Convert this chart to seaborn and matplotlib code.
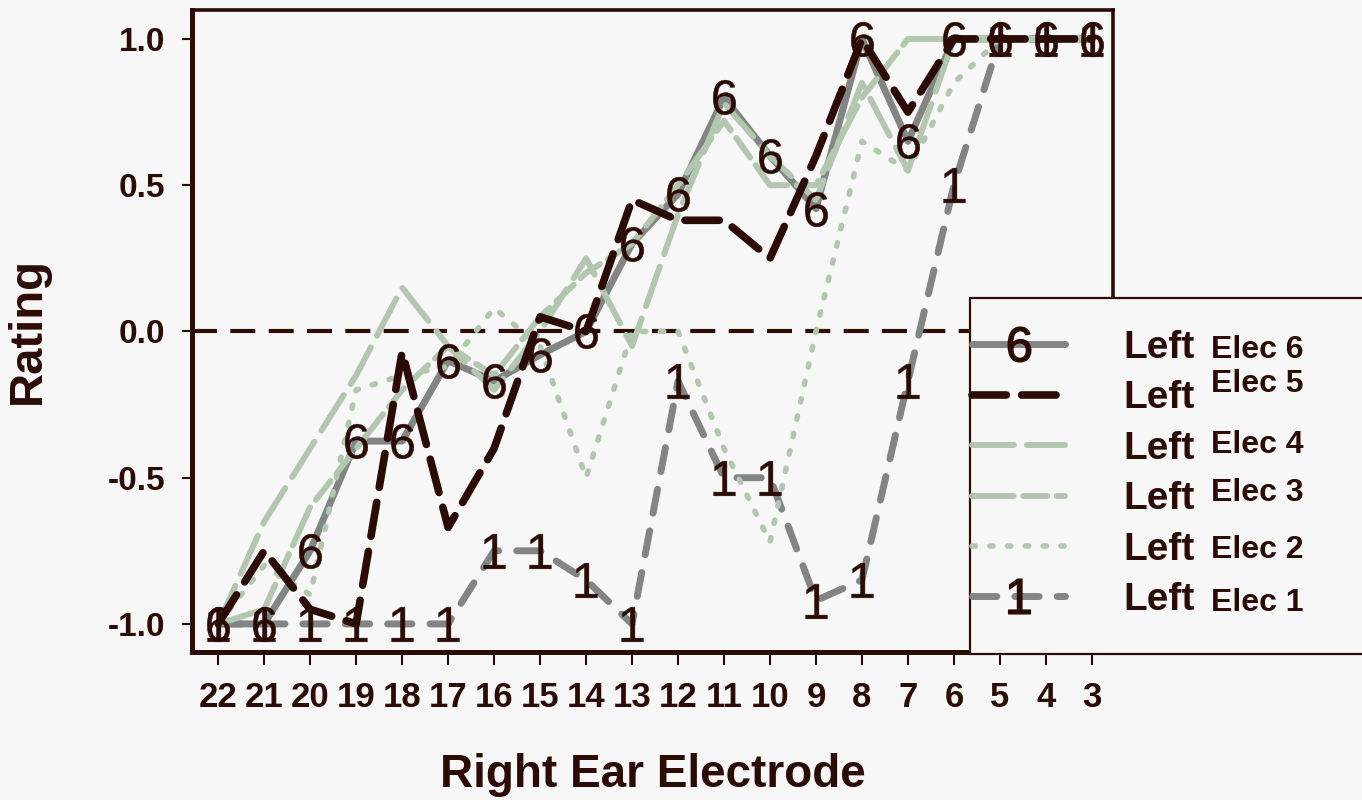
import numpy as np
import pandas as pd
import seaborn as sns
import matplotlib.pyplot as plt
from matplotlib.lines import Line2D
from matplotlib.patches import Rectangle

# right ear electrodes along the x axis, left-ear electrode series
electrodes = [22, 21, 20, 19, 18, 17, 16, 15, 14, 13, 12, 11, 10, 9, 8, 7, 6, 5, 4, 3]
elec6 = [-1.0, -1.0, -0.75, -0.375, -0.375, -0.1, -0.17, -0.08, 0.0, 0.3, 0.47, 0.8,
         0.6, 0.42, 1.0, 0.65, 1.0, 1.0, 1.0, 1.0]
elec5 = [-1.0, -0.75, -0.95, -1.0, -0.07, -0.67, -0.4, 0.05, 0.0, 0.45, 0.38, 0.38,
         0.25, 0.6, 1.0, 0.75, 1.0, 1.0, 1.0, 1.0]
elec4 = [-1.0, -0.65, -0.4, -0.15, 0.15, -0.05, -0.2, 0.0, 0.25, -0.05, 0.4, 0.78,
         0.6, 0.45, 0.85, 0.55, 1.0, 1.0, 1.0, 1.0]
elec3 = [-1.0, -0.95, -0.6, -0.4, -0.2, -0.05, -0.15, 0.05, 0.2, 0.3, 0.5, 0.72,
         0.5, 0.5, 0.8, 1.0, 1.0, 1.0, 1.0, 1.0]
elec2 = [-1.0, -0.8, -0.9, -0.2, -0.15, -0.12, 0.08, -0.05, -0.5, 0.0, 0.0, -0.4,
         -0.72, 0.0, 0.65, 0.55, 0.85, 1.0, 1.0, 1.0]
elec1 = [-1.0, -1.0, -1.0, -1.0, -1.0, -1.0, -0.75, -0.75, -0.85, -1.0, -0.17, -0.5,
         -0.5, -0.92, -0.85, -0.17, 0.5, 1.0, 1.0, 1.0]
yticks = [-1.0, -0.5, 0.0, 0.5, 1.0]

dark = '#2b0b06'
gray = '#838585'
light = '#b3c7b0'
bg = '#f7f7f7'

plt.rcParams['font.family'] = ['Liberation Sans', 'DejaVu Sans']
plt.rcParams['mathtext.fontset'] = 'custom'
plt.rcParams['mathtext.rm'] = 'Liberation Sans'

pos = np.arange(len(electrodes))
df = pd.DataFrame({'pos': pos, 'e6': elec6, 'e5': elec5, 'e4': elec4,
                   'e3': elec3, 'e2': elec2, 'e1': elec1})

fig = plt.figure(figsize=(13.62, 8), dpi=100, facecolor=bg)
ax = fig.add_axes([192 / 1362, 1 - 652 / 800, (1113 - 192) / 1362, (652 - 10) / 800])
ax.set_facecolor(bg)

styles = {
    'e6': dict(color=gray, lw=5, linestyle='-', zorder=2),
    'e1': dict(color=gray, lw=5, linestyle=(0, (3.5, 2.6)), zorder=2),
    'e4': dict(color=light, lw=4.3, linestyle=(0, (7, 2.2)), zorder=3),
    'e3': dict(color=light, lw=4.3, linestyle=(0, (7, 1.6, 4, 1.6, 4, 1.6)), zorder=3),
    'e2': dict(color=light, lw=4, linestyle=(0, (0.6, 2.6)), zorder=3),
    'e5': dict(color=dark, lw=5.5, linestyle=(0, (4.5, 2)), zorder=4),
}
for key, st in styles.items():
    sns.lineplot(data=df, x='pos', y=key, ax=ax, solid_capstyle='round',
                 dash_capstyle='round', **st)

ax.axhline(0, color=dark, lw=3, linestyle=(0, (6, 3.2)), zorder=1)

# number labels on the points of electrode 6 and electrode 1
sns.scatterplot(data=df, x='pos', y='e6', ax=ax, marker=r'$\mathrm{6}$', s=25 ** 2,
                color=dark, edgecolor=dark, linewidth=0.3, zorder=6)
sns.scatterplot(data=df, x='pos', y='e1', ax=ax, marker=r'$\mathrm{1}$', s=25 ** 2,
                color=dark, edgecolor=dark, linewidth=0.3, zorder=6)

ax.set_xlim(-0.57, 19.46)
ax.set_ylim(-1.096, 1.099)
ax.set_xticks(pos)
ax.set_xticklabels([str(e) for e in electrodes])
ax.set_yticks(yticks)
ax.set_yticklabels([f'{v:.1f}' for v in yticks])
ax.tick_params(axis='y', length=7, width=1.5, color=dark, pad=12, labelsize=24,
               labelcolor=dark)
ax.tick_params(axis='x', length=9, width=1.5, color=dark, pad=12, labelsize=25,
               labelcolor=dark)
for lab in ax.get_xticklabels() + ax.get_yticklabels():
    lab.set_fontweight('bold')
for side in ['left', 'bottom']:
    ax.spines[side].set_linewidth(3.6)
for side in ['top', 'right']:
    ax.spines[side].set_linewidth(2.6)
for sp in ax.spines.values():
    sp.set_color(dark)

ax.set_xlabel('Right Ear Electrode', fontsize=33, fontweight='bold', color=dark,
              labelpad=28)
ax.set_ylabel('Rating', fontsize=34, fontweight='bold', color=dark, labelpad=42)

# legend box
fig.patches.append(Rectangle((970 / 1362, 1 - 654 / 800), 0.3, (654 - 298) / 800,
                             transform=fig.transFigure, facecolor=bg, edgecolor=dark,
                             lw=1.6, zorder=3))

handles = [
    Line2D([], [], marker=r'$\mathrm{6}$', markersize=25, mfc=dark, mec=dark, **styles['e6']),
    Line2D([], [], **styles['e5']),
    Line2D([], [], **styles['e4']),
    Line2D([], [], **styles['e3']),
    Line2D([], [], **styles['e2']),
    Line2D([], [], marker=r'$\mathrm{1}$', markersize=25, mfc=dark, mec=dark, **styles['e1']),
]
for h in handles:
    h.set_solid_capstyle('round')
    h.set_dash_capstyle('round')
leg = fig.legend(handles, ['Left'] * 6, loc='upper left',
                 bbox_to_anchor=(972 / 1362, 1 - 330 / 800), frameon=False,
                 borderpad=0, borderaxespad=0, handlelength=2.4, handletextpad=1.5,
                 labelspacing=0.37, prop=dict(size=28, weight='bold'))
leg.set_zorder(5)
for t in leg.get_texts():
    t.set_color(dark)

fig.canvas.draw()
elec_names = ['Elec 6', 'Elec 5', 'Elec 4', 'Elec 3', 'Elec 2', 'Elec 1']
shift = [2, -14, -4, -6, 0, 3]
inv = fig.transFigure.inverted()
for t, name, dy in zip(leg.get_texts(), elec_names, shift):
    bb = t.get_window_extent()
    x, y = inv.transform((bb.x1 + 16, (bb.y0 + bb.y1) / 2 - dy))
    fig.text(x, y, name, fontsize=23, fontweight='bold', color=dark,
             va='center', ha='left', zorder=6)

fig.savefig('out.png', dpi=100, facecolor=bg)
